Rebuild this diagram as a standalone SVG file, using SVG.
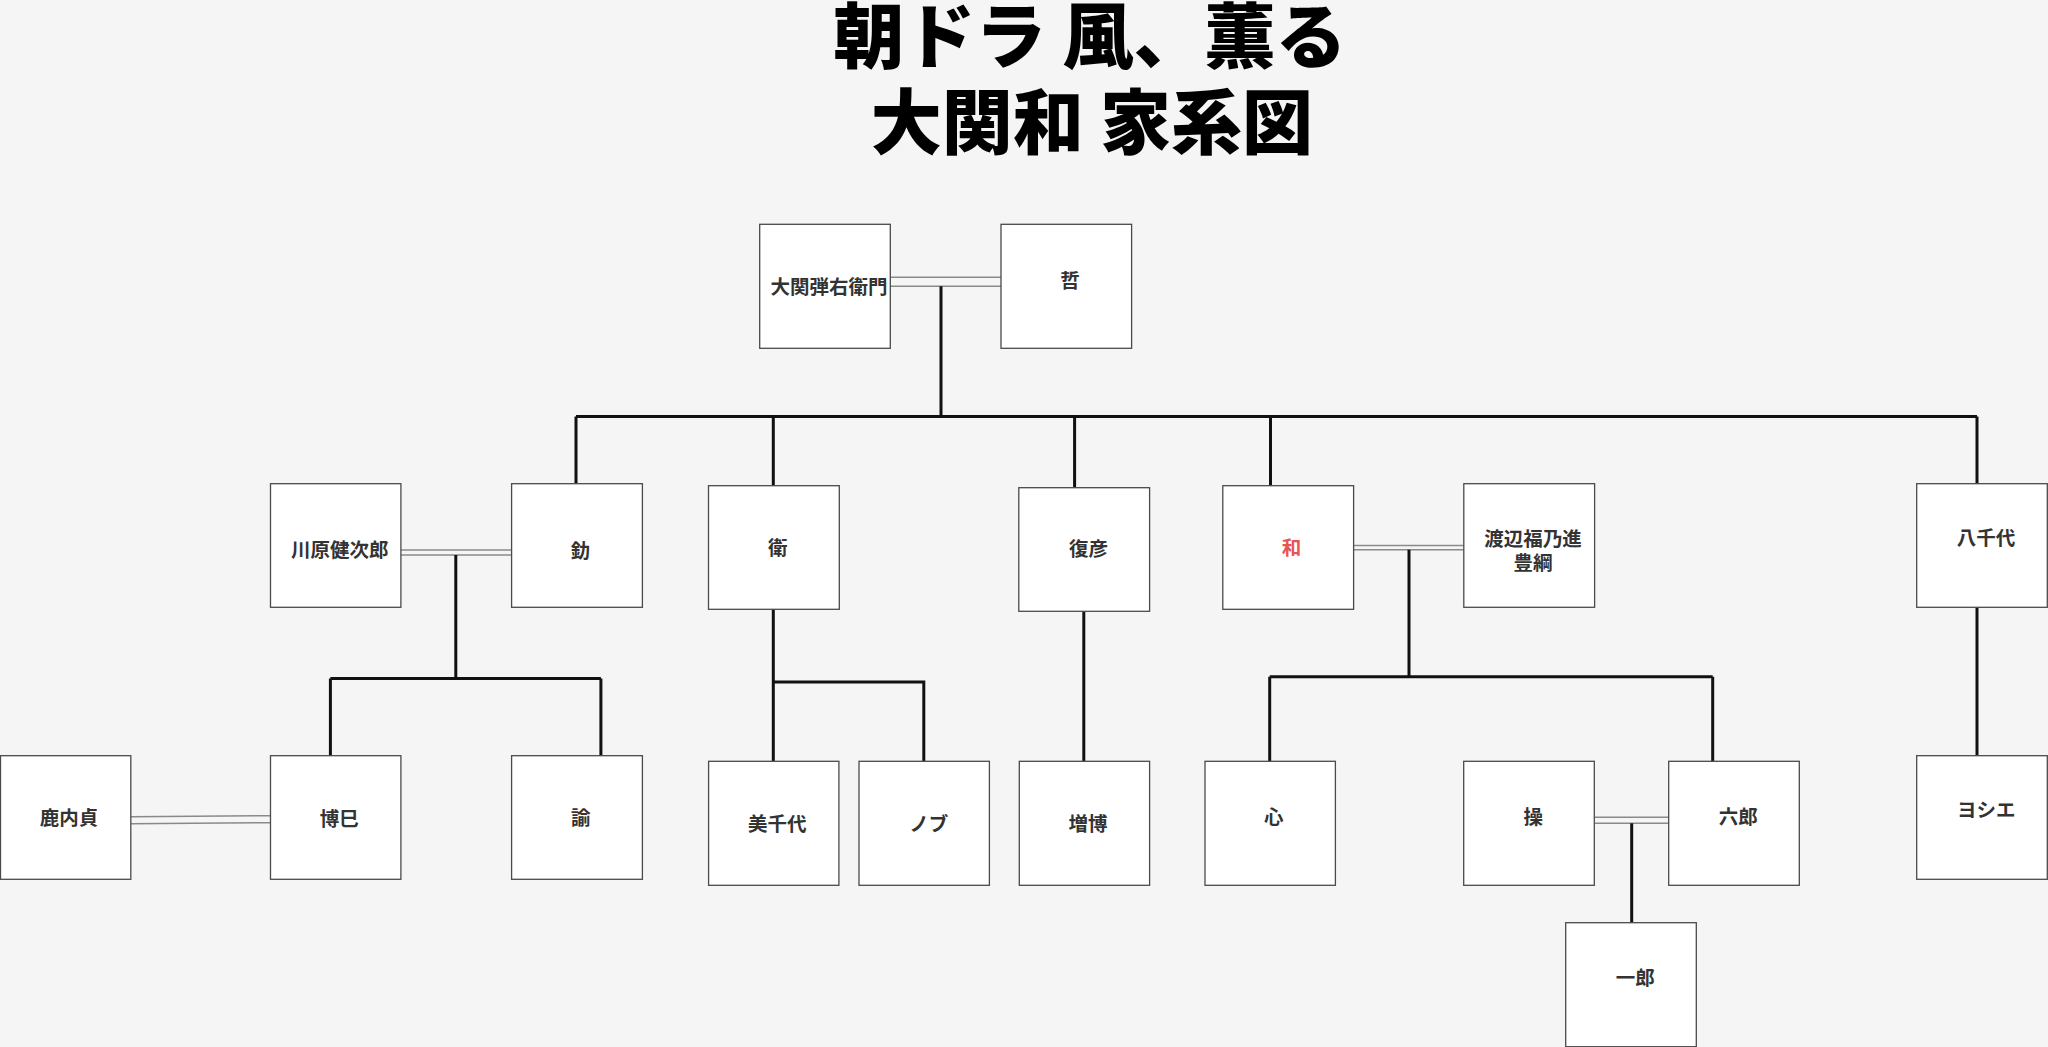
<svg xmlns="http://www.w3.org/2000/svg" width="2048" height="1047" viewBox="0 0 2048 1047">
<style>
.bg{fill:#f5f5f5}
.box{fill:#ffffff;stroke:#4a4a4a;stroke-width:1.3}
.t{font-family:"Noto Sans CJK JP","Noto Sans",sans-serif;font-weight:bold;font-size:19.5px;fill:#333333;text-anchor:middle}
.red{fill:#e85454}
.title{font-family:"Noto Sans CJK JP","Noto Sans",sans-serif;font-weight:900;font-size:71px;fill:#000000;text-anchor:middle}
.line{fill:none;stroke:#111111;stroke-width:3}
.dbl{fill:none;stroke:#8a8a8a;stroke-width:1.6}
</style>
<rect class="bg" x="0" y="0" width="2048" height="1047"/>
<g id="title">
<text class="title" x="1090" y="62">朝ドラ 風、薫る</text>
<text class="title" x="1092" y="148">大関和 家系図</text>
</g>
<g id="connectors">
<path class="dbl" d="M890.3 277.3H1001M890.3 286.3H1001"/>
<path class="dbl" d="M400.9 550H511.6M400.9 555H511.6"/>
<path class="dbl" d="M1353.6 545.5H1463.8M1353.6 549.7H1463.8"/>
<path class="dbl" d="M130.8 816.7L270.5 815.7M130.8 823.7L270.5 822.7"/>
<path class="dbl" d="M1594.3 817.3H1668.7M1594.3 823.3H1668.7"/>
<path class="line" d="M941 286.3V416.5M576 416.5H1977M576 416.5V483.7M773.3 416.5V485.7M1074.6 416.5V487.7M1270.5 416.5V485.7M1977 416.5V483.7"/>
<path class="line" d="M455.8 555V678.5M330.4 678.5H600.9M330.4 678.5V755.7M600.9 678.5V755.7"/>
<path class="line" d="M773.3 609.3V761.3M773.3 682H923.8V761.3"/>
<path class="line" d="M1083.8 611.3V761.3"/>
<path class="line" d="M1409 549.7V676.7M1269.7 676.7H1712.7M1269.7 676.7V761.3M1712.7 676.7V761.3"/>
<path class="line" d="M1977 607.3V755.7"/>
<path class="line" d="M1631.7 823.3V922.7"/>
</g>
<g id="n_daikan"><rect class="box" x="759.7" y="224.3" width="130.6" height="124"/><text class="t" x="829" y="294.4">大関弾右衛門</text></g>
<g id="n_tetsu"><rect class="box" x="1001" y="224.3" width="130.6" height="124"/><text class="t" x="1070" y="288.4">哲</text></g>
<g id="n_kawahara"><rect class="box" x="270.5" y="483.7" width="130.4" height="123.6"/><text class="t" x="339.7" y="557.4">川原健次郎</text></g>
<g id="n_isao"><rect class="box" x="511.6" y="483.7" width="130.8" height="123.6"/><text class="t" x="580.4" y="558">釛</text></g>
<g id="n_mamoru"><rect class="box" x="708.5" y="485.7" width="130.8" height="123.6"/><text class="t" x="777.7" y="554.7">衛</text></g>
<g id="n_fukuhiko"><rect class="box" x="1018.8" y="487.7" width="130.8" height="123.6"/><text class="t" x="1088.4" y="556.4">復彦</text></g>
<g id="n_chika"><rect class="box" x="1222.8" y="485.7" width="130.8" height="123.6"/><text class="t red" x="1291.5" y="554.7">和</text></g>
<g id="n_watanabe"><rect class="box" x="1463.8" y="483.7" width="130.8" height="123.6"/><text class="t" x="1533" y="545.7">渡辺福乃進</text><text class="t" x="1533" y="570.1">豊綱</text></g>
<g id="n_yachiyo"><rect class="box" x="1916.7" y="483.7" width="130.6" height="123.6"/><text class="t" x="1986" y="545.4">八千代</text></g>
<g id="n_shikanai"><rect class="box" x="0.5" y="755.7" width="130.3" height="123.6"/><text class="t" x="69" y="825.4">鹿内貞</text></g>
<g id="n_hiromi"><rect class="box" x="270.5" y="755.7" width="130.4" height="123.6"/><text class="t" x="339.3" y="825.7">博巳</text></g>
<g id="n_satoshi"><rect class="box" x="511.6" y="755.7" width="130.8" height="123.6"/><text class="t" x="580.8" y="825.4">諭</text></g>
<g id="n_michiyo"><rect class="box" x="708.6" y="761.3" width="130.3" height="124"/><text class="t" x="777.3" y="830.7">美千代</text></g>
<g id="n_nobu"><rect class="box" x="859" y="761.3" width="130.4" height="124"/><text class="t" x="928.7" y="830.7">ノブ</text></g>
<g id="n_masuhiro"><rect class="box" x="1019.3" y="761.3" width="130.3" height="124"/><text class="t" x="1088" y="830.7">増博</text></g>
<g id="n_kokoro"><rect class="box" x="1205" y="761.3" width="130.4" height="124"/><text class="t" x="1273.8" y="824.1">心</text></g>
<g id="n_misao"><rect class="box" x="1463.7" y="761.3" width="130.6" height="124"/><text class="t" x="1533.3" y="824.1">操</text></g>
<g id="n_rokuro"><rect class="box" x="1668.7" y="761.3" width="130.6" height="124"/><text class="t" x="1738.3" y="824.1">六郎</text></g>
<g id="n_yoshie"><rect class="box" x="1916.7" y="755.7" width="130.6" height="123.6"/><text class="t" x="1986.3" y="817.4">ヨシエ</text></g>
<g id="n_ichiro"><rect class="box" x="1565.7" y="922.7" width="130.6" height="124"/><text class="t" x="1635.3" y="985.1">一郎</text></g>
</svg>
